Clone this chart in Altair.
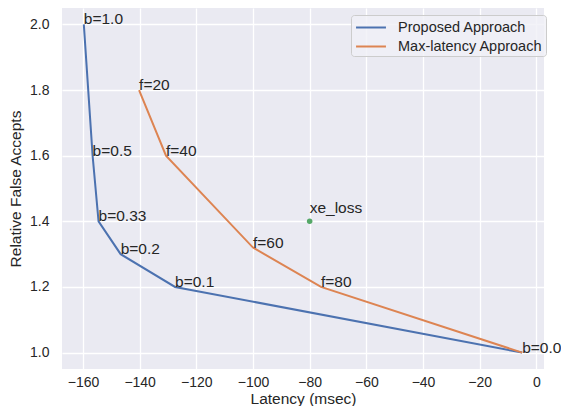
import altair as alt
import pandas as pd

# Proposed approach
prop_x = [-159.7, -156.6, -154.5, -146.7, -127.5, -5.0]
prop_y = [2.0, 1.6, 1.4, 1.3, 1.2, 1.0]
prop_lbl = ["b=1.0", "b=0.5", "b=0.33", "b=0.2", "b=0.1", "b=0.0"]

# Max-latency approach
max_x = [-140.2, -130.7, -100.0, -76.0, -5.0]
max_y = [1.8, 1.6, 1.32, 1.2, 1.0]
max_lbl = ["f=20", "f=40", "f=60", "f=80", ""]

# single point
xe_x = [-80.0]
xe_y = [1.4]
xe_lbl = ["xe_loss"]

series_names = ["Proposed Approach", "Max-latency Approach"]
series_colors = ["#4c72b0", "#dd8452"]
x_ticks = [-160, -140, -120, -100, -80, -60, -40, -20, 0]
y_ticks = [1.0, 1.2, 1.4, 1.6, 1.8, 2.0]

rows = []
for i, (x, y, l) in enumerate(zip(prop_x, prop_y, prop_lbl)):
    rows.append({"x": x, "y": y, "label": l, "series": series_names[0], "i": i})
for i, (x, y, l) in enumerate(zip(max_x, max_y, max_lbl)):
    rows.append({"x": x, "y": y, "label": l, "series": series_names[1], "i": i})
df = pd.DataFrame(rows)
pt = pd.DataFrame({"x": xe_x, "y": xe_y, "label": xe_lbl})

FONT = "Liberation Sans"
TXT = "#262626"

xs = alt.X("x:Q", scale=alt.Scale(domain=[-167.4, 2.7], nice=False, zero=False),
           axis=alt.Axis(values=x_ticks, title="Latency (msec)", format="d"))
ys = alt.Y("y:Q", scale=alt.Scale(domain=[0.95, 2.05], nice=False, zero=False),
           axis=alt.Axis(values=y_ticks, title="Relative False Accepts", format=".1f"))
color = alt.Color("series:N",
                  scale=alt.Scale(domain=series_names, range=series_colors),
                  legend=alt.Legend(title=None, orient="none", legendX=289, legendY=7,
                                    symbolType="M-1.76,0H1.76", symbolSize=289,
                                    symbolStrokeWidth=2, symbolOffset=7.5,
                                    labelFontSize=14.5,
                                    labelFont=FONT, labelColor=TXT, labelOffset=17.5,
                                    rowPadding=3, padding=3,
                                    fillColor="rgba(240,240,246,0.8)",
                                    strokeColor="#cccccc", cornerRadius=3,
                                    labelLimit=300))

base = alt.Chart(df)
line_p = base.transform_filter(alt.datum.series == series_names[0]).mark_line(strokeWidth=2).encode(
    x=xs, y=ys, color=color, order="i:Q")
line_m = base.transform_filter(alt.datum.series == series_names[1]).mark_line(strokeWidth=2).encode(
    x=xs, y=ys, color=color, order="i:Q")
labels = base.mark_text(align="left", baseline="alphabetic", font=FONT, fontSize=15.5,
                        color=TXT).encode(x=xs, y=ys, text="label:N")
point = alt.Chart(pt).mark_circle(size=30, color="#55a868", opacity=1).encode(x=xs, y=ys)
pt_lbl = alt.Chart(pt).mark_text(align="left", baseline="alphabetic", font=FONT, fontSize=15.5,
                                 color=TXT, dy=-8.5).encode(x=xs, y=ys, text="label:N")

chart = alt.layer(line_p, line_m, labels, point, pt_lbl).properties(
    width=482, height=361,
    autosize=alt.AutoSizeParams(type="none"),
    padding={"left": 54, "top": 0, "right": 17, "bottom": 37},
).configure_view(fill="#EAEAF2", stroke=None).configure_axis(
    grid=True, gridColor="white", gridWidth=1.3, domain=False, ticks=False, tickSize=0,
    labelFont=FONT, labelFontSize=14, labelColor=TXT,
    titleFont=FONT, titleFontSize=15.5, titleColor=TXT, titleFontWeight="normal",
).configure_axisX(labelPadding=6, titlePadding=2).configure_axisY(labelPadding=13, titlePadding=6)

chart.save("out.html", embed_options={"renderer": "svg", "actions": False})
